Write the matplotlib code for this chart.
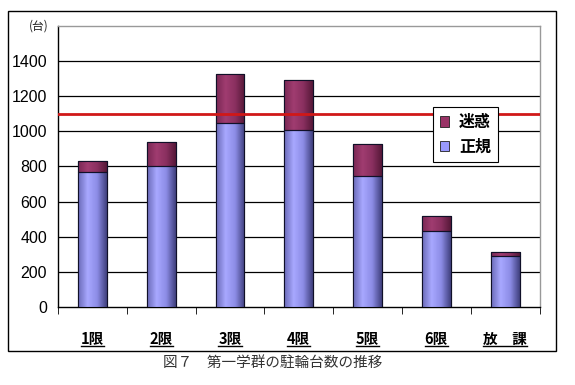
import numpy as np
import matplotlib
matplotlib.use("Agg")
import matplotlib.pyplot as plt
from matplotlib.patches import Rectangle, Patch
from matplotlib.lines import Line2D
from matplotlib.colors import LinearSegmentedColormap
from matplotlib.transforms import IdentityTransform

plt.rcParams['font.family'] = ['Liberation Sans', 'Noto Sans CJK JP', 'DejaVu Sans']

# data
periods = ['1限', '2限', '3限', '4限', '5限', '6限', '放　課']
seiki = [770, 800, 1050, 1010, 745, 435, 290]     # 正規
meiwaku = [60, 137, 276, 281, 181, 85, 25]        # 迷惑
limit_line = 1100
yticks = [0, 200, 400, 600, 800, 1000, 1200, 1400]

fig = plt.figure(figsize=(5.75, 3.85), dpi=100)
ax = fig.add_axes([0.1009, 0.2026, 0.8374, 0.7299])

x = np.arange(len(periods))
w = 0.42
b1 = ax.bar(x, seiki, w, color='#9999ff', edgecolor='#101030', linewidth=0.8, zorder=3)
b2 = ax.bar(x, meiwaku, w, bottom=seiki, color='#993366', edgecolor='#101010', linewidth=0.8, zorder=3)

# cylinder-like shading on the bars
cm_blue = LinearSegmentedColormap.from_list('b', ['#6a6ab8', '#a8a8ff', '#8c8ce6', '#40407e'])
cm_red = LinearSegmentedColormap.from_list('r', ['#7a2854', '#a03c70', '#8a3060', '#561838'])
grad = np.linspace(0, 1, 64).reshape(1, -1)
for bars, cm in ((b1, cm_blue), (b2, cm_red)):
    for p in bars:
        x0, y0 = p.get_x(), p.get_y()
        im = ax.imshow(grad, cmap=cm, aspect='auto', zorder=3.5,
                       extent=(x0, x0 + p.get_width(), y0, y0 + p.get_height()))
        im.set_clip_path(p)
        edge = Rectangle((x0, y0), p.get_width(), p.get_height(), fill=False,
                         edgecolor='#101028', linewidth=0.8, zorder=4)
        ax.add_patch(edge)

ax.axhline(limit_line, color='#d01818', linewidth=2, zorder=5)

ax.set_xlim(-0.5, len(periods) - 0.5)
ax.set_ylim(0, 1600)
ax.set_yticks(yticks)
ax.set_yticklabels([str(v) for v in yticks], fontsize=11.5)
ax.tick_params(axis='y', length=0, pad=8)
for v in yticks[1:]:
    ax.axhline(v, color='black', linewidth=0.9, zorder=1)

ax.set_xticks(x)
ax.set_xticklabels(periods, fontsize=10.5, fontweight='bold', family=['Noto Sans CJK JP'])
ax.tick_params(axis='x', length=0, pad=17)
ax.set_xticks(np.arange(-0.5, len(periods)), minor=True)
ax.tick_params(axis='x', which='minor', length=5, direction='out', color='black')

for s in ['left', 'bottom']:
    ax.spines[s].set_color('black')
    ax.spines[s].set_linewidth(1)
for s in ['top', 'right']:
    ax.spines[s].set_color('#999999')
    ax.spines[s].set_linewidth(1)

ax.text(-0.02, 1.0, '(台)', transform=ax.transAxes, ha='right', va='center',
        fontsize=8.5, family=['Noto Sans CJK JP'], color='#222222')

handles = [Patch(facecolor='#993366', edgecolor='#202020', linewidth=0.6),
           Patch(facecolor='#9999ff', edgecolor='#202020', linewidth=0.6)]
leg = ax.legend(handles, ['迷惑', '正規'], loc='upper left', bbox_to_anchor=(0.778, 0.712),
                borderaxespad=0,
                prop={'family': 'Noto Sans CJK JP', 'weight': 'bold', 'size': 11.5},
                handlelength=0.6, handleheight=0.6, handletextpad=0.6,
                labelspacing=0.55, borderpad=0.45, fancybox=False, framealpha=1,
                edgecolor='black')
leg.get_frame().set_linewidth(0.8)
leg.set_zorder(6)

# outer frame of the chart
fig.add_artist(Rectangle((0.0139, 0.0883), 0.9531, 0.8827, transform=fig.transFigure,
                         fill=False, edgecolor='black', linewidth=1))

fig.text(0.475, 0.057, '図７　第一学群の駐輪台数の推移', ha='center', va='center',
         fontsize=10.5, family=['Noto Sans CJK JP'], color='#333333')

# underline the category labels
fig.canvas.draw()
for lbl in ax.get_xticklabels():
    bb = lbl.get_window_extent()
    fig.add_artist(Line2D([bb.x0, bb.x1], [bb.y0 + 1, bb.y0 + 1],
                          transform=IdentityTransform(), color='black', linewidth=1))

fig.savefig('out.png', dpi=100)
